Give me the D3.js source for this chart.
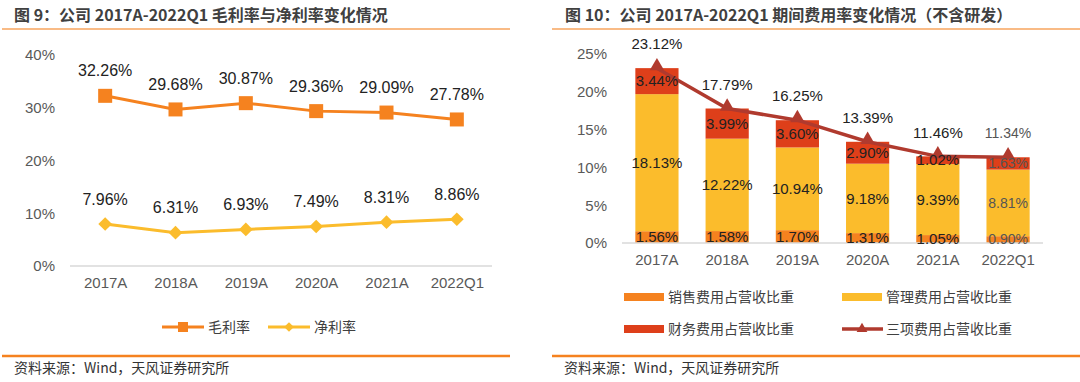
<!DOCTYPE html>
<html>
<head>
<meta charset="utf-8">
<script src="https://cdn.jsdelivr.net/npm/d3@7"></script>
<style>
  body { margin: 0; background: #fff; }
  svg { display: block; font-family: "Liberation Sans", Arial, sans-serif; }
  .cjk { font-family: "Noto Sans CJK SC", "Noto Sans", sans-serif; }
</style>
</head>
<body>
<svg id="chart" width="1080" height="382"></svg>
<script>
// ---- data ----
const categories = ['2017A', '2018A', '2019A', '2020A', '2021A', '2022Q1'];

// left chart
const grossMargin = [32.26, 29.68, 30.87, 29.36, 29.09, 27.78];
const netMargin = [7.96, 6.31, 6.93, 7.49, 8.31, 8.86];
const leftTicks = [0, 10, 20, 30, 40];

// right chart
const salesRate = [1.56, 1.58, 1.70, 1.31, 1.05, 0.90];
const adminRate = [18.13, 12.22, 10.94, 9.18, 9.39, 8.81];
const financeRate = [3.44, 3.99, 3.60, 2.90, 1.02, 1.63];
const totalRate = [23.12, 17.79, 16.25, 13.39, 11.46, 11.34];
const rightTicks = [0, 5, 10, 15, 20, 25];

const orange = '#F5821F';
const yellow = '#FBBC2C';
const red = '#DE3F1A';
const darkRed = '#B03A2E';

const svg = d3.select('#chart');

// ---- titles, rules, sources ----
const titles = [
  { x: 14, text: '图 9：公司 2017A-2022Q1 毛利率与净利率变化情况', x1: 2, x2: 510 },
  { x: 565, text: '图 10：公司 2017A-2022Q1 期间费用率变化情况（不含研发）', x1: 552, x2: 1080 }
];
titles.forEach(t => {
  svg.append('text')
    .attr('class', 'cjk')
    .attr('x', t.x).attr('y', 21)
    .attr('font-size', 16).attr('font-weight', 'bold')
    .attr('fill', '#404040')
    .text(t.text);
  svg.append('line')
    .attr('x1', t.x1).attr('x2', t.x2).attr('y1', 29).attr('y2', 29)
    .attr('stroke', '#F7A45E').attr('stroke-width', 1.5);
  svg.append('line')
    .attr('x1', t.x1).attr('x2', t.x2).attr('y1', 356).attr('y2', 356)
    .attr('stroke', orange).attr('stroke-width', 2.5);
  svg.append('text')
    .attr('class', 'cjk')
    .attr('x', t.x1 + 12).attr('y', 373)
    .attr('font-size', 14).attr('fill', '#333')
    .text('资料来源：Wind，天风证券研究所');
});

// ---- left chart ----
const xL = d3.scalePoint().domain(categories).range([70, 492]).padding(0.5);
const yL = d3.scaleLinear().domain([0, 40]).range([266, 55]);

const left = svg.append('g');

left.append('g')
  .attr('transform', 'translate(58,0)')
  .call(d3.axisLeft(yL).tickValues(leftTicks).tickSize(0).tickFormat(d => d + '%'))
  .call(g => g.select('.domain').remove())
  .call(g => g.selectAll('text').attr('font-size', 15).attr('fill', '#595959')
    .attr('font-family', '"Liberation Sans", Arial, sans-serif'));

left.append('line')
  .attr('x1', 70).attr('x2', 492).attr('y1', yL(0)).attr('y2', yL(0))
  .attr('stroke', '#D9D9D9').attr('stroke-width', 1.5);

left.append('g')
  .attr('transform', `translate(0,${yL(0)})`)
  .call(d3.axisBottom(xL).tickSize(0).tickPadding(11))
  .call(g => g.select('.domain').remove())
  .call(g => g.selectAll('text').attr('font-size', 15).attr('fill', '#595959')
    .attr('font-family', '"Liberation Sans", Arial, sans-serif'));

const lineL = d3.line().x((d, i) => xL(categories[i])).y(d => yL(d));

left.append('path').datum(grossMargin)
  .attr('d', lineL).attr('fill', 'none')
  .attr('stroke', orange).attr('stroke-width', 3);
left.selectAll('rect.gm').data(grossMargin).enter().append('rect')
  .attr('class', 'gm')
  .attr('x', (d, i) => xL(categories[i]) - 7)
  .attr('y', d => yL(d) - 7)
  .attr('width', 14).attr('height', 14)
  .attr('fill', orange);

left.append('path').datum(netMargin)
  .attr('d', lineL).attr('fill', 'none')
  .attr('stroke', yellow).attr('stroke-width', 3);
left.selectAll('path.nm').data(netMargin).enter().append('path')
  .attr('class', 'nm')
  .attr('transform', (d, i) => `translate(${xL(categories[i])},${yL(d)})`)
  .attr('d', d3.symbol(d3.symbolDiamond2, 120))
  .attr('fill', yellow);

[grossMargin, netMargin].forEach(series => {
  left.selectAll(null).data(series).enter().append('text')
    .attr('x', (d, i) => xL(categories[i]))
    .attr('y', d => yL(d) - 25)
    .attr('dy', '0.35em')
    .attr('text-anchor', 'middle')
    .attr('font-size', 16).attr('fill', '#222')
    .text(d => d.toFixed(2) + '%');
});

// left legend
const legL = [
  { x: 162, label: '毛利率', color: orange, mark: 'square' },
  { x: 268, label: '净利率', color: yellow, mark: 'diamond' }
];
legL.forEach(l => {
  const g = left.append('g').attr('transform', `translate(${l.x},327)`);
  g.append('line').attr('x1', 0).attr('x2', 42)
    .attr('stroke', l.color).attr('stroke-width', 3);
  if (l.mark === 'square') {
    g.append('rect').attr('x', 16).attr('y', -5).attr('width', 10).attr('height', 10).attr('fill', l.color);
  } else {
    g.append('path').attr('transform', 'translate(21,0)')
      .attr('d', d3.symbol(d3.symbolDiamond2, 60)).attr('fill', l.color);
  }
  g.append('text').attr('class', 'cjk')
    .attr('x', 46).attr('dy', '0.35em')
    .attr('font-size', 14).attr('fill', '#404040')
    .text(l.label);
});

// ---- right chart ----
const xR = d3.scaleBand().domain(categories).range([622, 1043])
  .paddingInner(0.385).paddingOuter(0.19);
const yR = d3.scaleLinear().domain([0, 25]).range([243, 54]);

const right = svg.append('g');

right.append('g')
  .attr('transform', 'translate(610,0)')
  .call(d3.axisLeft(yR).tickValues(rightTicks).tickSize(0).tickFormat(d => d + '%'))
  .call(g => g.select('.domain').remove())
  .call(g => g.selectAll('text').attr('font-size', 15).attr('fill', '#595959')
    .attr('font-family', '"Liberation Sans", Arial, sans-serif'));

const seriesR = [
  { key: 'sales', values: salesRate, color: orange },
  { key: 'admin', values: adminRate, color: yellow },
  { key: 'finance', values: financeRate, color: red }
];
const stacked = categories.map((c, i) => {
  let base = 0;
  return seriesR.map(s => {
    const seg = { cat: c, i: i, y0: base, y1: base + s.values[i], v: s.values[i], color: s.color };
    base += s.values[i];
    return seg;
  });
}).flat();

right.selectAll('rect.seg').data(stacked).enter().append('rect')
  .attr('class', 'seg')
  .attr('x', d => xR(d.cat))
  .attr('width', xR.bandwidth())
  .attr('y', d => yR(d.y1))
  .attr('height', d => yR(d.y0) - yR(d.y1))
  .attr('fill', d => d.color);

right.append('line')
  .attr('x1', 622).attr('x2', 1043).attr('y1', yR(0)).attr('y2', yR(0))
  .attr('stroke', '#D9D9D9').attr('stroke-width', 1.5);

right.append('g')
  .attr('transform', `translate(0,${yR(0)})`)
  .call(d3.axisBottom(xR).tickSize(0).tickPadding(11))
  .call(g => g.select('.domain').remove())
  .call(g => g.selectAll('text').attr('font-size', 15).attr('fill', '#595959')
    .attr('font-family', '"Liberation Sans", Arial, sans-serif'));

const lineR = d3.line().x((d, i) => xR(categories[i]) + xR.bandwidth() / 2).y(d => yR(d));
right.append('path').datum(totalRate)
  .attr('d', lineR).attr('fill', 'none')
  .attr('stroke', darkRed).attr('stroke-width', 3.5);
right.selectAll('path.tri').data(totalRate).enter().append('path')
  .attr('class', 'tri')
  .attr('transform', (d, i) => `translate(${xR(categories[i]) + xR.bandwidth() / 2},${yR(d) - 2})`)
  .attr('d', d3.symbol(d3.symbolTriangle, 90))
  .attr('fill', darkRed);

const lastCat = categories[categories.length - 1];
right.selectAll('text.seglab').data(stacked).enter().append('text')
  .attr('class', 'seglab')
  .attr('x', d => xR(d.cat) + xR.bandwidth() / 2)
  .attr('y', d => yR((d.y0 + d.y1) / 2))
  .attr('dy', '0.35em')
  .attr('text-anchor', 'middle')
  .attr('font-size', d => d.cat === lastCat ? 14 : 15)
  .attr('fill', d => d.cat === lastCat ? '#555' : '#222')
  .text(d => d.v.toFixed(2) + '%');

right.selectAll('text.tot').data(totalRate).enter().append('text')
  .attr('class', 'tot')
  .attr('x', (d, i) => xR(categories[i]) + xR.bandwidth() / 2)
  .attr('y', d => yR(d) - 24)
  .attr('dy', '0.35em')
  .attr('text-anchor', 'middle')
  .attr('font-size', (d, i) => categories[i] === lastCat ? 14 : 15)
  .attr('fill', (d, i) => categories[i] === lastCat ? '#555' : '#222')
  .text(d => d.toFixed(2) + '%');

// right legend
const legR = [
  { x: 624, y: 297, label: '销售费用占营收比重', color: orange, type: 'bar' },
  { x: 842, y: 297, label: '管理费用占营收比重', color: yellow, type: 'bar' },
  { x: 624, y: 329, label: '财务费用占营收比重', color: red, type: 'bar' },
  { x: 842, y: 329, label: '三项费用占营收比重', color: darkRed, type: 'line' }
];
legR.forEach(l => {
  const g = right.append('g').attr('transform', `translate(${l.x},${l.y})`);
  if (l.type === 'bar') {
    g.append('rect').attr('x', 0).attr('y', -4).attr('width', 40).attr('height', 8).attr('fill', l.color);
  } else {
    g.append('line').attr('x1', 0).attr('x2', 41).attr('stroke', l.color).attr('stroke-width', 3.5);
    g.append('path').attr('transform', 'translate(20,0)')
      .attr('d', d3.symbol(d3.symbolTriangle, 50)).attr('fill', l.color);
  }
  g.append('text').attr('class', 'cjk')
    .attr('x', 44).attr('dy', '0.35em')
    .attr('font-size', 14).attr('fill', '#404040')
    .text(l.label);
});
</script>
</body>
</html>
